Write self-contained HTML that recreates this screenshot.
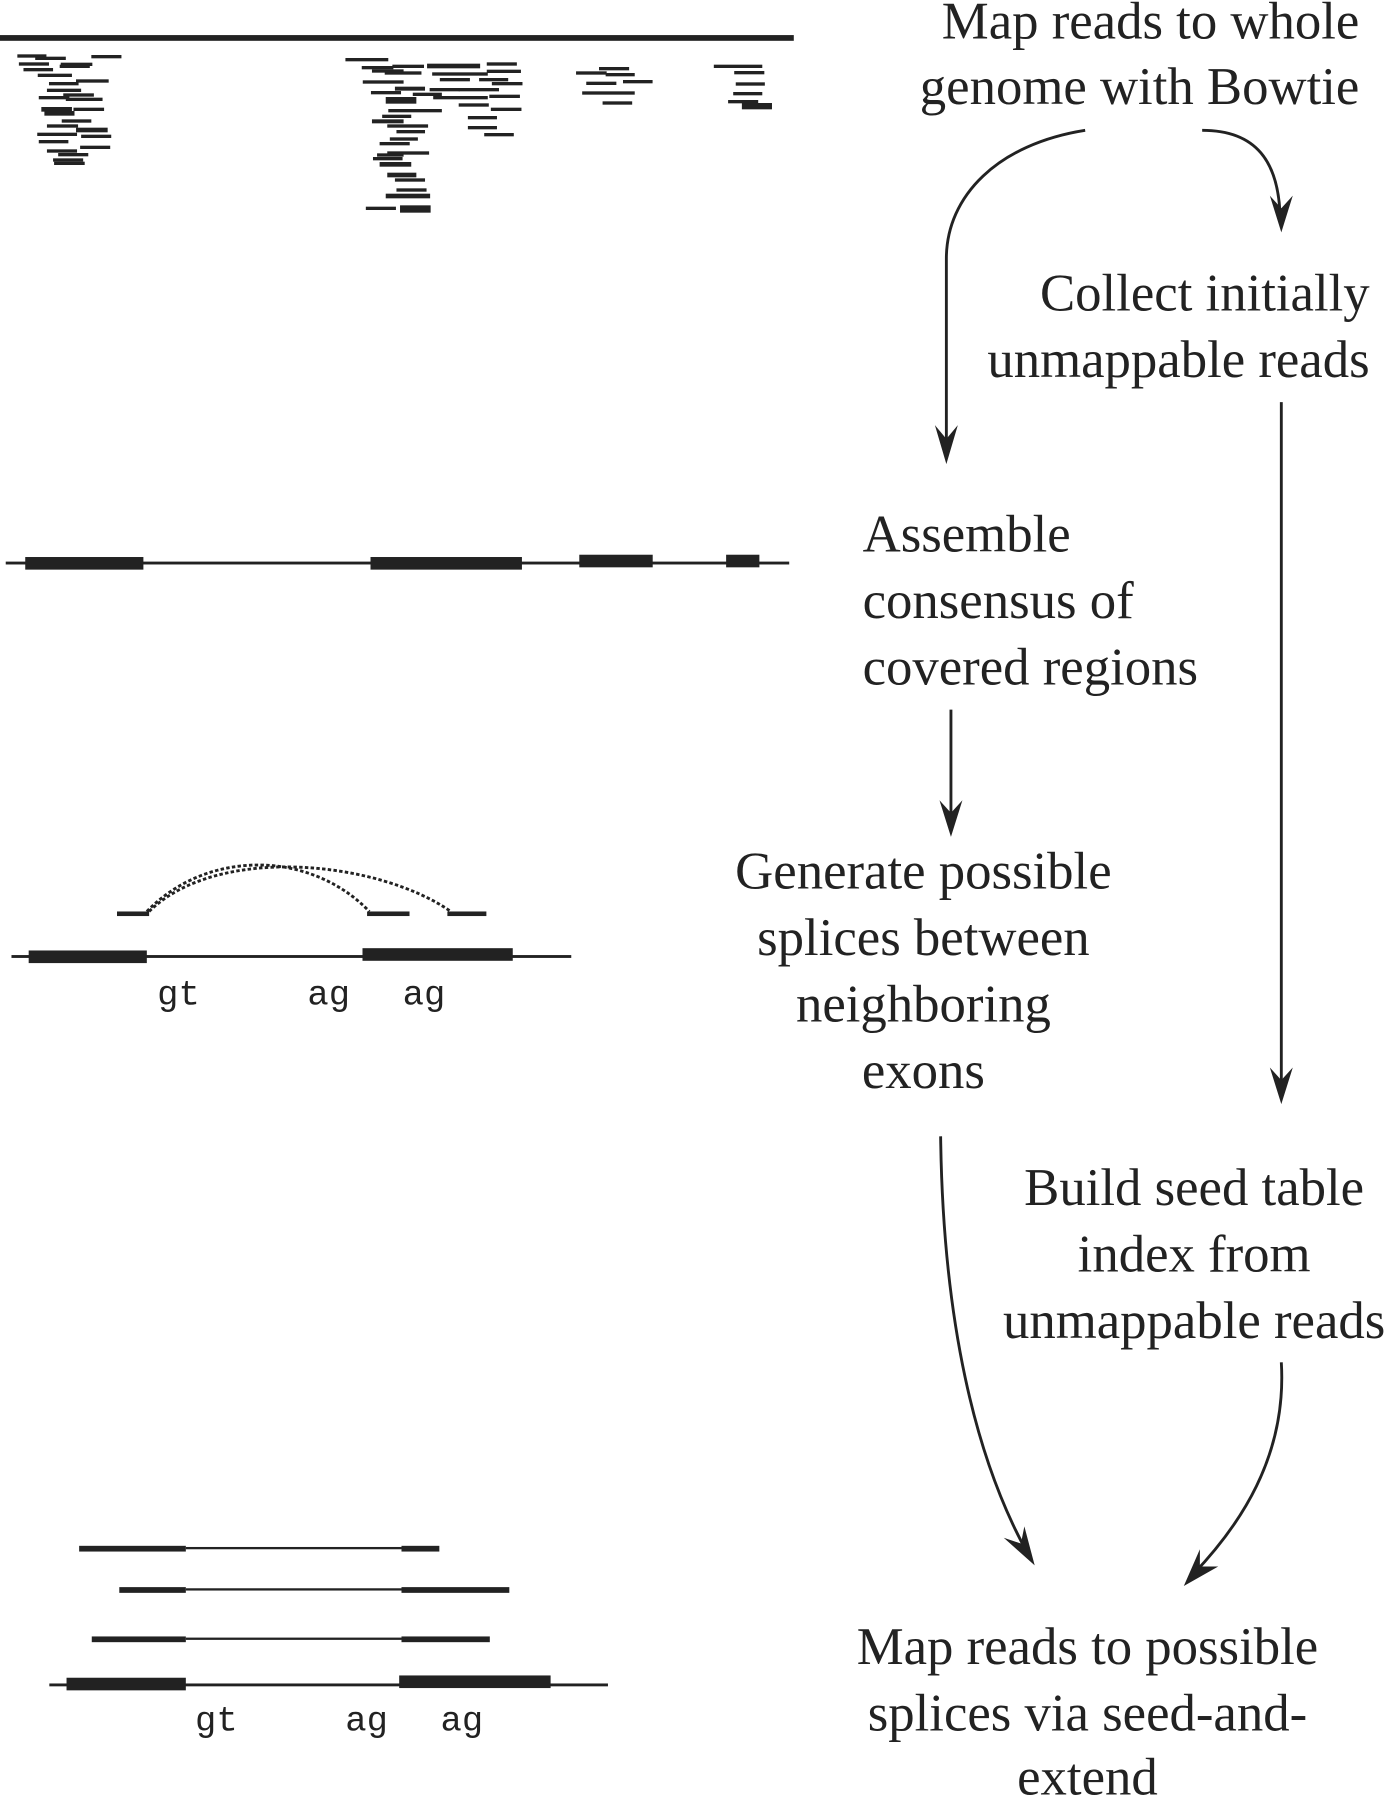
<!DOCTYPE html>
<html><head><meta charset="utf-8"><style>
html,body{margin:0;padding:0;background:#fff}
svg{display:block}
text{font-family:"Liberation Serif",serif;font-size:46px;fill:#222}
.m{font-family:"Liberation Mono",monospace;font-size:31px}
</style></head><body>
<svg width="1388" height="1800" viewBox="0 0 1210 1568" xmlns="http://www.w3.org/2000/svg">
<rect x="0" y="30" width="692" height="5" fill="#222"/>
<g transform="translate(0,26.15) scale(0.4448,0.2906)" fill="#222" stroke="#222" stroke-width="2">
<rect x="35" y="72" width="55" height="8"/><rect x="70" y="79" width="58" height="8"/><rect x="180" y="74" width="57" height="8"/><rect x="38" y="96" width="57" height="8"/><rect x="120" y="97" width="60" height="8"/><rect x="47" y="113" width="56" height="8"/><rect x="118" y="103" width="57" height="8"/><rect x="75" y="130" width="65" height="8"/><rect x="97" y="155" width="56" height="8"/><rect x="150" y="147" width="62" height="8"/><rect x="93" y="175" width="65" height="8"/><rect x="125" y="189" width="58" height="8"/><rect x="77" y="197" width="58" height="8"/><rect x="130" y="202" width="70" height="8"/><rect x="82" y="230" width="58" height="12"/><rect x="145" y="232" width="58" height="8"/><rect x="88" y="242" width="57" height="12"/><rect x="122" y="267" width="56" height="8"/><rect x="93" y="282" width="59" height="8"/><rect x="150" y="292" width="60" height="12"/><rect x="74" y="307" width="76" height="8"/><rect x="160" y="313" width="57" height="8"/><rect x="77" y="329" width="56" height="8"/><rect x="158" y="346" width="57" height="8"/><rect x="93" y="357" width="57" height="8"/><rect x="115" y="368" width="57" height="8"/><rect x="105" y="384" width="57" height="8"/><rect x="107" y="394" width="58" height="8"/>
<rect x="678" y="83" width="82" height="8"/><rect x="710" y="107" width="60" height="8"/><rect x="770" y="103" width="60" height="8"/><rect x="838" y="100" width="102" height="12"/><rect x="955" y="96" width="57" height="8"/><rect x="730" y="117" width="60" height="8"/><rect x="755" y="123" width="70" height="8"/><rect x="848" y="126" width="107" height="8"/><rect x="955" y="118" width="65" height="8"/><rect x="712" y="150" width="78" height="8"/><rect x="863" y="143" width="57" height="8"/><rect x="940" y="143" width="55" height="8"/><rect x="965" y="155" width="58" height="8"/><rect x="728" y="182" width="57" height="8"/><rect x="775" y="169" width="57" height="10"/><rect x="843" y="173" width="57" height="8"/><rect x="900" y="173" width="77" height="8"/><rect x="810" y="187" width="55" height="8"/><rect x="850" y="197" width="105" height="8"/><rect x="960" y="193" width="58" height="8"/><rect x="757" y="200" width="58" height="18"/><rect x="900" y="219" width="57" height="8"/><rect x="762" y="236" width="103" height="8"/><rect x="963" y="232" width="58" height="8"/><rect x="750" y="253" width="55" height="8"/><rect x="730" y="267" width="60" height="10"/><rect x="918" y="257" width="55" height="8"/><rect x="760" y="282" width="78" height="8"/><rect x="918" y="287" width="55" height="8"/><rect x="778" y="299" width="54" height="8"/><rect x="765" y="321" width="53" height="8"/><rect x="950" y="308" width="56" height="8"/><rect x="745" y="335" width="57" height="8"/><rect x="760" y="363" width="80" height="8"/><rect x="740" y="369" width="50" height="8"/><rect x="732" y="380" width="56" height="8"/><rect x="745" y="395" width="60" height="12"/><rect x="760" y="427" width="55" height="12"/><rect x="775" y="444" width="57" height="8"/><rect x="778" y="474" width="57" height="8"/><rect x="757" y="490" width="85" height="12"/><rect x="718" y="529" width="57" height="8"/><rect x="785" y="525" width="58" height="20"/>
<rect x="1175" y="110" width="57" height="8"/><rect x="1130" y="123" width="58" height="8"/><rect x="1188" y="128" width="55" height="8"/><rect x="1150" y="154" width="57" height="8"/><rect x="1222" y="149" width="56" height="8"/><rect x="1142" y="183" width="101" height="8"/><rect x="1182" y="213" width="56" height="8"/>
<rect x="1400" y="103" width="93" height="8"/><rect x="1440" y="122" width="57" height="8"/><rect x="1443" y="156" width="55" height="8"/><rect x="1438" y="185" width="55" height="8"/><rect x="1428" y="209" width="57" height="8"/><rect x="1455" y="218" width="57" height="17"/>
</g>
<g fill="#222">
<rect x="5" y="489" width="683" height="2.5"/>
<rect x="22" y="485" width="103" height="11"/><rect x="323" y="485" width="132" height="11"/><rect x="505" y="483" width="64" height="11"/><rect x="633" y="483" width="29" height="11"/>
<rect x="10" y="832" width="488" height="2.5"/>
<rect x="25" y="828" width="103" height="11"/><rect x="316" y="826" width="131" height="11"/>
<rect x="102" y="794" width="28" height="4"/><rect x="320" y="794" width="37" height="4"/><rect x="390" y="794" width="34" height="4"/>
<rect x="69" y="1347" width="93" height="5"/><rect x="162" y="1348" width="188" height="2"/><rect x="350" y="1347" width="33" height="5"/>
<rect x="104" y="1383" width="58" height="5"/><rect x="162" y="1384" width="188" height="2"/><rect x="350" y="1383" width="94" height="5"/>
<rect x="80" y="1426" width="82" height="5"/><rect x="162" y="1427" width="188" height="2"/><rect x="350" y="1426" width="77" height="5"/>
<rect x="43" y="1467" width="487" height="2.5"/><rect x="58" y="1462" width="104" height="11"/><rect x="348" y="1460" width="132" height="11"/>
</g>
<path d="M128,794 C180,740 270,740 322,794" fill="none" stroke="#222" stroke-width="2.5" stroke-dasharray="3,2"/>
<path d="M130,794 C190,735 330,750 393,794" fill="none" stroke="#222" stroke-width="2.5" stroke-dasharray="3,2"/>
<text class="m" x="137" y="875">gt</text><text class="m" x="268" y="875">ag</text><text class="m" x="351" y="875">ag</text>
<text class="m" x="170" y="1508">gt</text><text class="m" x="301" y="1508">ag</text><text class="m" x="384" y="1508">ag</text>
<g fill="none" stroke="#222" stroke-width="2.5">
<path d="M946,113 C870,125 825,170 825,225 L825,392"/>
<path d="M1048,113 C1095,113 1115,140 1116,190"/>
<path d="M1117,350 L1117,950"/>
<path d="M829,618 L829,718"/>
<path d="M820,990 C822,1150 850,1270 895,1352"/>
<path d="M1117,1187 C1122,1270 1080,1330 1040,1372"/>
</g>
<g fill="#222">
<path d="M825,404 L815,370 L825,382 L835,370 Z"/>
<path d="M1117,202 L1107,170 L1117,181 L1127,170 Z"/>
<path d="M1117,962 L1107,930 L1117,941 L1127,930 Z"/>
<path d="M829,729 L819,697 L829,708 L839,697 Z"/>
<path d="M902,1364 L875,1340 L890,1345 L893,1330 Z"/>
<path d="M1032,1382 L1046,1350 L1046,1365 L1062,1365 Z"/>
</g>
<text x="1185" y="33" text-anchor="end">Map reads to whole</text>
<text x="1185" y="90" text-anchor="end">genome with Bowtie</text>
<text x="1194" y="270" text-anchor="end">Collect initially</text>
<text x="1194" y="328" text-anchor="end">unmappable reads</text>
<text x="752" y="480">Assemble</text>
<text x="752" y="538">consensus of</text>
<text x="752" y="596">covered regions</text>
<text x="805" y="774" text-anchor="middle">Generate possible</text>
<text x="805" y="832" text-anchor="middle">splices between</text>
<text x="805" y="890" text-anchor="middle">neighboring</text>
<text x="805" y="948" text-anchor="middle">exons</text>
<text x="1041" y="1050" text-anchor="middle">Build seed table</text>
<text x="1041" y="1108" text-anchor="middle">index from</text>
<text x="1041" y="1166" text-anchor="middle">unmappable reads</text>
<text x="948" y="1450" text-anchor="middle">Map reads to possible</text>
<text x="948" y="1508" text-anchor="middle">splices via seed-and-</text>
<text x="948" y="1564" text-anchor="middle">extend</text>
</svg>
</body></html>
